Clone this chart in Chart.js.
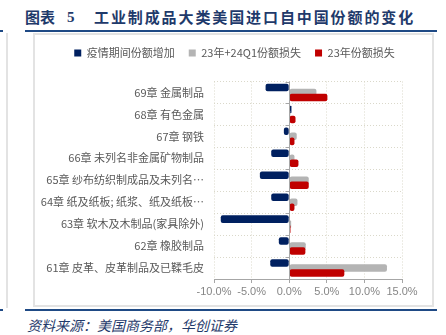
<!DOCTYPE html>
<html><head><meta charset="utf-8">
<script src="https://cdn.jsdelivr.net/npm/chart.js@4"></script>
<style>
html,body{margin:0;padding:0;background:#fff;width:446px;height:335px;overflow:hidden;}
.abs{position:absolute;}
.t{font-family:"Noto Sans CJK SC","Liberation Serif",serif;font-weight:700;font-size:15px;color:#1f3a6b;white-space:nowrap;line-height:20px;top:7px;}
#src{left:27px;top:315px;font-family:"Noto Sans CJK SC",sans-serif;font-style:italic;font-size:14px;color:#1f3a6b;white-space:nowrap;line-height:20px;}
</style></head>
<body>
<div class="abs" style="left:0;top:30px;width:3px;height:2px;background:#1f4a85"></div>
<div class="abs" style="left:0;top:309px;width:3px;height:2px;background:#1f4a85"></div>
<div class="abs" style="left:6px;top:33px;width:2px;height:275px;background:#e3e3e3"></div>
<div class="abs" style="left:25px;top:30px;width:412px;height:2px;background:#1f4a85"></div>
<div class="abs" style="left:25px;top:309px;width:412px;height:2px;background:#1f4a85"></div>
<div class="abs" style="left:33px;top:33px;width:397px;height:270px;border:2px solid #e3e3e3"></div>
<div class="abs t" style="left:25px;">图表</div>
<div class="abs t" style="left:67px;font-family:'Liberation Serif',serif;">5</div>
<div class="abs t" style="left:94px;letter-spacing:1.9px;">工业制成品大类美国进口自中国份额的变化</div>
<div class="abs" id="src">资料来源：美国商务部，华创证券</div>
<canvas id="c" width="446" height="335" style="position:absolute;left:0;top:0;"></canvas>
<script>
const categories = ['69章 金属制品','68章 有色金属','67章 钢铁','66章 未列名非金属矿物制品','65章 纱布纺织制成品及未列名…','64章 纸及纸板; 纸浆、纸及纸板…','63章 软木及木制品(家具除外)','62章 橡胶制品','61章 皮革、皮革制品及已鞣毛皮'];
const seriesNames = ['疫情期间份额增加','23年+24Q1份额损失','23年份额损失'];
const pandemicGain = [-3.14, 0.30, -0.71, -2.39, -3.90, -2.39, -9.10, -1.38, -2.52];
const loss23Q1 = [3.62, 0.15, 1.00, 0.70, 2.60, 1.10, 0.26, 2.20, 13.00];
const loss23 = [5.08, 0.84, 0.70, 1.23, 2.60, 0.70, 0.17, 2.15, 7.33];
const xTicks = [-10, -5, 0, 5, 10, 15];

const CJK = '"Noto Sans CJK SC",sans-serif';
const LAT = '"Liberation Sans",sans-serif';
const customDraw = {
  id:'customDraw',
  beforeDatasetsDraw(chart){
    for (let i=0;i<chart.data.datasets.length;i++){
      if (chart.isDatasetVisible(i)) chart.getDatasetMeta(i).controller.draw();
    }
    const xs = chart.scales.x, ys = chart.scales.y, ctx = chart.ctx;
    const x0 = Math.round(xs.getPixelForValue(0)) + 0.5;
    ctx.save();
    ctx.strokeStyle = '#A6A6A6'; ctx.lineWidth = 1;
    ctx.beginPath();
    ctx.moveTo(x0, ys.top); ctx.lineTo(x0, ys.bottom);
    const n = ys.ticks.length;
    for (let k=0;k<=n;k++){
      const y = Math.round(ys.top + k*(ys.bottom-ys.top)/n) + 0.5;
      ctx.moveTo(x0-4, y); ctx.lineTo(x0, y);
    }
    ctx.stroke(); ctx.restore();
    return false;
  }
};
const common = {xAxisID:'x', yAxisID:'y', barPercentage:1.5, categoryPercentage:0.685, borderRadius:2, borderSkipped:false, borderWidth:0};
new Chart(document.getElementById('c'), {
  type:'bar',
  data:{
    labels:categories,
    datasets:[
      Object.assign({label:seriesNames[0], data:pandemicGain, backgroundColor:'#002060'}, common),
      Object.assign({label:seriesNames[1], data:loss23Q1, backgroundColor:'#B4B4B4'}, common),
      Object.assign({label:seriesNames[2], data:loss23, backgroundColor:'#C00000'}, common)
    ]
  },
  options:{
    indexAxis:'y', responsive:false, animation:false, devicePixelRatio:1,
    layout:{padding:{left:23, right:0, top:33.5, bottom:36}},
    plugins:{
      tooltip:{enabled:false},
      legend:{position:'top', labels:{boxWidth:7, boxHeight:7, padding:14, color:'#595959', font:{size:11, family:CJK}}}
    },
    scales:{
      x:{type:'linear', position:'bottom', min:-10, max:15,
        afterBuildTicks(s){ s.ticks = xTicks.map(v=>({value:v})); },
        ticks:{callback:v=>v.toFixed(1)+'%', color:'#868686', font:{size:11, family:LAT}, padding:2, maxRotation:0, autoSkip:false},
        grid:{color:'#DAD8CA', lineWidth:1, drawTicks:true, tickLength:4, tickColor:'#A6A6A6'},
        border:{display:true, color:'#A6A6A6', width:1, dash:[1,2]},
        afterFit(s){ s.height = 20; }
      },
      xTop:{type:'linear', position:'top', display:true, grid:{display:false, drawTicks:false}, border:{display:false}, ticks:{display:false},
        afterFit(s){ s.height = 13; }
      },
      y:{type:'category', position:'left',
        ticks:{color:'#595959', font:{size:11, family:CJK}, padding:10, autoSkip:false},
        grid:{color:'#DAD8CA', lineWidth:1, drawTicks:false, offset:true},
        border:{display:false, dash:[1,2]},
        afterFit(s){ s.width = 191; }
      },
      yRight:{type:'linear', position:'right', display:true, grid:{display:false, drawTicks:false}, border:{display:false}, ticks:{display:false},
        afterFit(s){ s.width = 44; }
      }
    }
  },
  plugins:[customDraw]
});
</script>
</body></html>
